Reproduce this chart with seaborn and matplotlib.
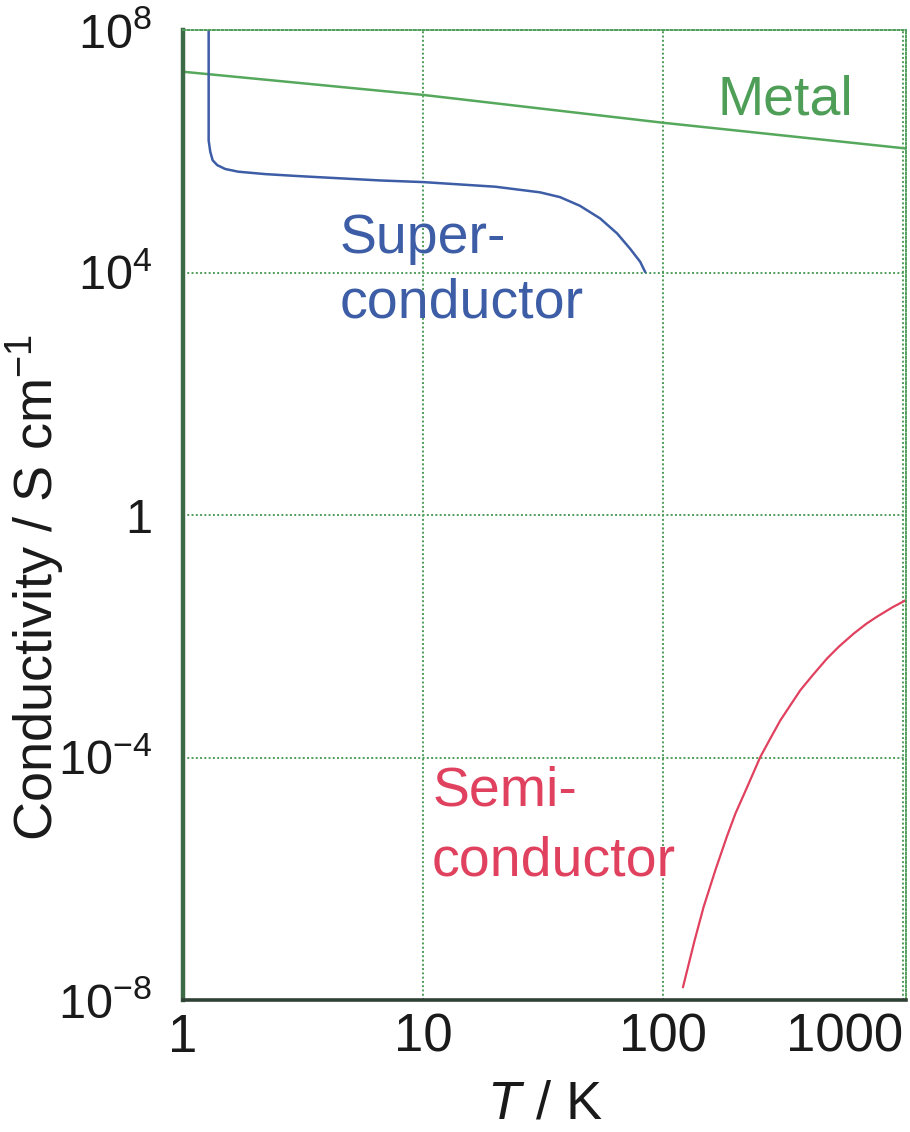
import numpy as np
import pandas as pd
import seaborn as sns
import matplotlib
matplotlib.use("Agg")
import matplotlib.pyplot as plt

# values (T in K, conductivity in S/cm)
metal_T = [1, 10, 100, 1050]
metal_sigma = [2.05e7, 8.5e6, 2.95e6, 1.1e6]

super_T = [1.28, 1.28, 1.30, 1.33, 1.39, 1.5, 1.7, 2.2, 3, 6.6, 10, 20, 30.7,
           37.2, 45, 54.6, 64.3, 72.9, 80.2, 84.1]
super_sigma = [1e8, 1.5e6, 9.8e5, 7.1e5, 5.9e5, 5.1e5, 4.6e5, 4.2e5, 3.9e5,
               3.3e5, 3.1e5, 2.6e5, 2.1e5, 1.75e5, 1.26e5, 7.8e4, 4.4e4,
               2.45e4, 1.5e4, 1.02e4]

semi_T = [120.8, 135, 147.2, 165, 184.2, 200, 223.2, 253.6, 280, 307.4, 372.4,
          420, 481, 540, 620, 700, 776, 900, 1019]
semi_sigma = [1.62e-8, 9.5e-8, 3.4e-7, 1.4e-6, 5.0e-6, 1.2e-5, 3.2e-5, 1.02e-4,
              2.1e-4, 4.1e-4, 1.29e-3, 2.3e-3, 4.3e-3, 6.8e-3, 1.1e-2, 1.6e-2,
              2.1e-2, 3.0e-2, 3.9e-2]

x_ticks = [1, 10, 100, 1000]
x_labels = ["1", "10", "100", "1000"]
y_ticks = [1e-8, 1e-4, 1, 1e4, 1e8]
y_labels = ["$10^{-8}$", "$10^{-4}$", "1", "$10^{4}$", "$10^{8}$"]

sns.set_style("white")
plt.rcParams['font.family'] = ['Liberation Sans', 'DejaVu Sans']
plt.rcParams['mathtext.fontset'] = 'custom'
plt.rcParams['mathtext.rm'] = 'Liberation Sans'
plt.rcParams['mathtext.it'] = 'Liberation Sans:italic'
plt.rcParams['mathtext.default'] = 'regular'

green = "#55a85c"
blue = "#3d5da6"
red = "#e0415e"
grid_green = "#4f9e5a"

fig, ax = plt.subplots(figsize=(9.1, 11.32), dpi=100)
fig.subplots_adjust(left=0.201, right=0.996, bottom=0.1166, top=0.9735)

metal = pd.DataFrame({"T": metal_T, "sigma": metal_sigma})
supr = pd.DataFrame({"T": super_T, "sigma": super_sigma})
semi = pd.DataFrame({"T": semi_T, "sigma": semi_sigma})

sns.lineplot(data=metal, x="T", y="sigma", color=green, lw=1.8, sort=False, estimator=None, ax=ax)
sns.lineplot(data=supr, x="T", y="sigma", color=blue, lw=1.8, sort=False, estimator=None, ax=ax)
sns.lineplot(data=semi, x="T", y="sigma", color=red, lw=1.6, sort=False, estimator=None, ax=ax)

ax.set_xscale("log")
ax.set_yscale("log")
ax.set_xlim(1, 1029)
ax.set_ylim(1e-8, 1e8)

ax.set_xticks(x_ticks)
ax.set_xticklabels(x_labels)
ax.set_yticks(y_ticks)
ax.set_yticklabels(y_labels)
ax.minorticks_off()
ax.tick_params(axis="both", length=0, colors="#1a1a1a")
ax.tick_params(axis="x", pad=9, labelsize=38)
ax.tick_params(axis="y", pad=22, labelsize=35)
ax.get_xticklabels()[-1].set_ha("right")

ax.grid(True, color=grid_green, linestyle=(0, (1, 1.2)), lw=1.4)

ax.spines["left"].set_color("#3d6b45")
ax.spines["left"].set_linewidth(3.2)
ax.spines["bottom"].set_color("#2f4035")
ax.spines["bottom"].set_linewidth(2.6)
for s in ["top", "right"]:
    ax.spines[s].set_color(grid_green)
    ax.spines[s].set_linestyle((0, (1, 1.2)))
    ax.spines[s].set_linewidth(1.4)

ax.set_xlabel("$\\mathit{T}$ / K", fontsize=39, color="#1a1a1a", labelpad=12)
ax.set_ylabel("Conductivity / S cm$^{-1}$", fontsize=39, color="#1a1a1a")
ax.yaxis.set_label_coords(-0.16, 0.425)

ax.text(169, 4e6, "Metal", fontsize=40, color="#4e9e58", ha="left", va="baseline")
ax.text(4.51, 2.1e4, "Super-", fontsize=40, color=blue, ha="left", va="baseline")
ax.text(4.51, 1.8e3, "conductor", fontsize=40, color=blue, ha="left", va="baseline")
ax.text(10.9, 1.6e-5, "Semi-", fontsize=40, color=red, ha="left", va="baseline")
ax.text(10.9, 1.15e-6, "conductor", fontsize=40, color=red, ha="left", va="baseline")

plt.savefig("out.png", dpi=100)
